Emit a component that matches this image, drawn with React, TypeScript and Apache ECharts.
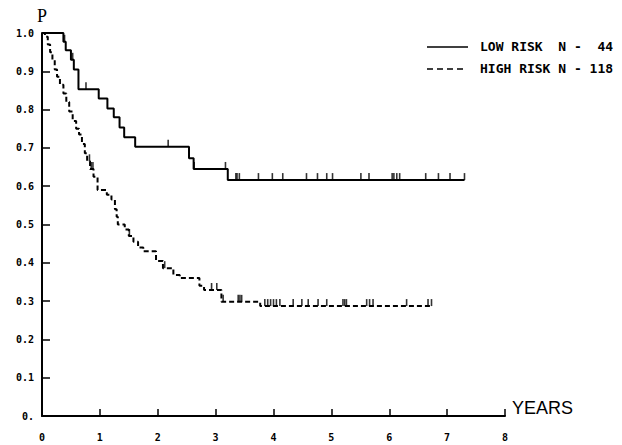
import React, { useEffect, useRef } from "react";
import * as echarts from "echarts";

// Low risk group (N = 44): step drop times (years) and survival after each drop
const lowTimes = [0, 0.37, 0.41, 0.5, 0.55, 0.63, 0.98, 1.13, 1.24, 1.34, 1.42, 1.61, 2.54, 2.62, 3.21, 7.3];
const lowSurv = [1.0, 0.977, 0.955, 0.93, 0.905, 0.853, 0.829, 0.803, 0.78, 0.753, 0.728, 0.703, 0.673, 0.645, 0.616, 0.616];
const lowCensor = [0.39, 0.53, 0.76, 2.18, 2.63, 3.17, 3.35, 3.37, 3.41, 3.74, 3.98, 4.16, 4.57, 4.76, 4.92, 5.02, 5.51, 5.65, 6.05, 6.08, 6.13, 6.18, 6.63, 6.85, 7.05, 7.3];

// High risk group (N = 118)
const highTimes = [0, 0.05, 0.1, 0.14, 0.18, 0.22, 0.26, 0.31, 0.37, 0.42, 0.47, 0.53, 0.59, 0.64, 0.69, 0.74, 0.78, 0.83, 0.89, 0.96, 1.12, 1.2, 1.26, 1.29, 1.31, 1.43, 1.5, 1.58, 1.66, 1.75, 1.97, 2.09, 2.27, 2.38, 2.72, 2.8, 3.1, 3.77, 6.73];
const highSurv = [1.0, 0.99, 0.97, 0.95, 0.93, 0.905, 0.886, 0.865, 0.842, 0.82, 0.795, 0.77, 0.75, 0.735, 0.71, 0.686, 0.665, 0.645, 0.625, 0.59, 0.578, 0.565, 0.54, 0.52, 0.5, 0.487, 0.47, 0.455, 0.44, 0.43, 0.405, 0.386, 0.368, 0.36, 0.34, 0.329, 0.298, 0.287, 0.287];
const highCensor = [0.82, 0.85, 0.88, 1.51, 2.12, 2.93, 3.02, 3.13, 3.39, 3.42, 3.45, 3.85, 3.9, 3.95, 4.0, 4.05, 4.11, 4.34, 4.49, 4.6, 4.77, 4.92, 5.2, 5.23, 5.26, 5.61, 5.66, 5.72, 6.3, 6.67, 6.73];

const xTicks = [0, 1, 2, 3, 4, 5, 6, 7, 8];
const yTickLabels = ["0.", "0.1", "0.2", "0.3", "0.4", "0.5", "0.6", "0.7", "0.8", "0.9", "1.0"];

const legendLabels = ["LOW RISK  N -  44", "HIGH RISK N - 118"];

function survAt(times: number[], surv: number[], t: number) {
  let v = surv[0];
  for (let i = 0; i < times.length; i++) {
    if (times[i] <= t + 1e-9) v = surv[i];
  }
  return v;
}

const monoFont = "'DejaVu Sans Mono', 'Liberation Mono', monospace";

export default function App() {
  const ref = useRef<HTMLDivElement>(null);
  useEffect(() => {
    if (!ref.current) return;
    const chart = echarts.init(ref.current, null, { renderer: "svg" });
    const lowLine = lowTimes.map((t, i) => [t, lowSurv[i]]);
    const highLine = highTimes.map((t, i) => [t, highSurv[i]]);
    const lowC = lowCensor.map((t) => [t, survAt(lowTimes, lowSurv, t)]);
    const highC = highCensor.map((t) => [t, survAt(highTimes, highSurv, t)]);
    const censorSeries = (name: string, data: number[][]) => ({
      name,
      type: "scatter",
      data,
      symbol: "rect",
      symbolSize: [1.6, 7],
      symbolOffset: [0, -3.5],
      itemStyle: { color: "#000" },
      silent: true,
      z: 3,
    });
    chart.setOption({
      animation: false,
      backgroundColor: "#fff",
      grid: { left: 42, right: 117, top: 33, bottom: 29, containLabel: false },
      xAxis: {
        type: "value",
        min: 0,
        max: 8,
        interval: 1,
        axisLine: { show: true, onZero: false, lineStyle: { color: "#000", width: 2 } },
        axisTick: { show: true, inside: true, length: 7, lineStyle: { color: "#000", width: 1.5 } },
        axisLabel: {
          margin: 16,
          color: "#000",
          fontFamily: monoFont,
          fontWeight: "bold",
          fontSize: 10,
          formatter: (v: number) => (xTicks.includes(v) ? String(v) : ""),
        },
        splitLine: { show: false },
      },
      yAxis: {
        type: "value",
        min: 0,
        max: 1,
        interval: 0.1,
        axisLine: { show: true, onZero: false, lineStyle: { color: "#000", width: 2 } },
        axisTick: { show: true, inside: true, length: 8, lineStyle: { color: "#000", width: 1.5 } },
        axisLabel: {
          margin: 8,
          color: "#000",
          fontFamily: monoFont,
          fontWeight: "bold",
          fontSize: 10,
          formatter: (v: number) => yTickLabels[Math.round(v * 10)] ?? "",
        },
        splitLine: { show: false },
      },
      graphic: [
        { type: "text", left: 37, top: 7, style: { text: "P", font: "18px 'Liberation Serif', serif", fill: "#000" } },
        { type: "text", left: 512, top: 399, style: { text: "YEARS", font: "18px 'Liberation Sans', sans-serif", fill: "#000" } },
        { type: "line", shape: { x1: 427, y1: 47, x2: 468, y2: 47 }, style: { stroke: "#000", lineWidth: 1.5 } },
        { type: "line", shape: { x1: 427, y1: 69, x2: 467, y2: 69 }, style: { stroke: "#000", lineWidth: 1.5, lineDash: [6, 4] } },
        { type: "text", left: 480, top: 40, style: { text: legendLabels[0], font: `bold 13px ${monoFont}`, fill: "#000" } },
        { type: "text", left: 480, top: 62, style: { text: legendLabels[1], font: `bold 13px ${monoFont}`, fill: "#000" } },
      ],
      series: [
        {
          name: "LOW RISK",
          type: "line",
          step: "end",
          data: lowLine,
          showSymbol: false,
          lineStyle: { color: "#000", width: 2 },
          z: 2,
        },
        {
          name: "HIGH RISK",
          type: "line",
          step: "end",
          data: highLine,
          showSymbol: false,
          lineStyle: { color: "#000", width: 2, type: [5, 3] },
          z: 2,
        },
        censorSeries("LOW RISK censored", lowC),
        censorSeries("HIGH RISK censored", highC),
      ],
    });
    return () => chart.dispose();
  }, []);
  return <div ref={ref} style={{ position: "fixed", left: 0, top: 0, width: 622, height: 445 }} />;
}
